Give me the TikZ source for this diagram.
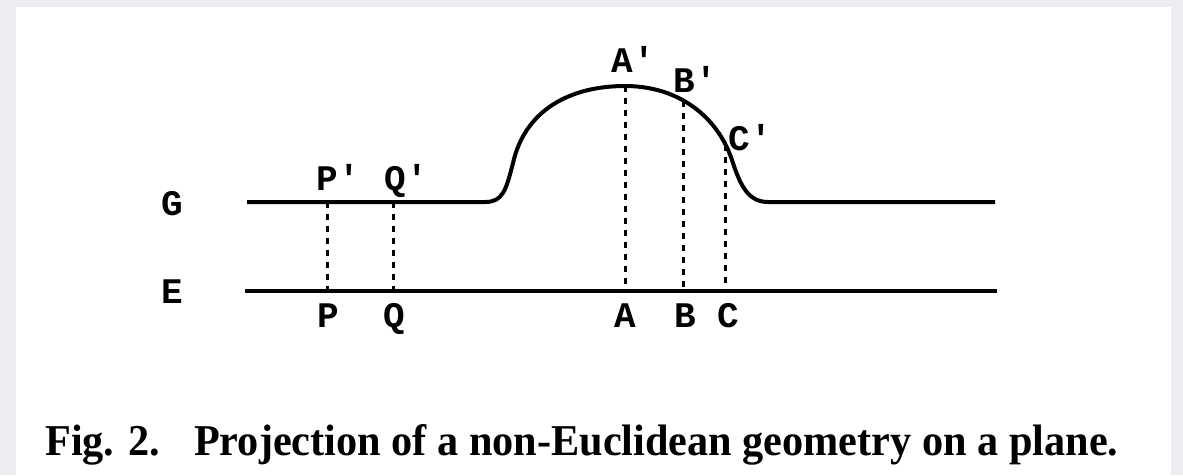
\documentclass[tikz,border=0pt]{standalone}
\usepackage{fontspec}
\usepackage{graphicx}
\setmonofont{Liberation Mono}
\newfontfamily\capfont{Liberation Serif}
\definecolor{paper}{RGB}{236,237,241}

\tikzset{
    lbl/.style={font=\ttfamily\bfseries\fontsize{36}{36}\selectfont, inner sep=0pt, anchor=base},
    surf/.style={line width=4pt},
    proj/.style={line width=3pt, dash pattern=on 6pt off 6pt},
}

\begin{document}
\begin{tikzpicture}[x=1pt, y=-1pt]
    \fill[paper] (0,0) rectangle (1183,475);
    \fill[white] (16,7) rectangle (1171,475);
    \useasboundingbox (0,0) rectangle (1183,475);

    % the curved surface G and the plane E
    \coordinate (G0) at (247,202);
    \coordinate (G1) at (485,202);
    \coordinate (Gb) at (513,163);
    \coordinate (Ap) at (625,86);
    \coordinate (Gc) at (732,160);
    \coordinate (G2) at (768,202);
    \coordinate (G3) at (995,202);
    \coordinate (E0) at (245,291);
    \coordinate (E1) at (997,291);

    \draw[surf] (G0) -- (G1)
        .. controls (503,202) and (506,190) .. (Gb)
        .. controls (525,110) and (570,86) .. (Ap)
        .. controls (680,86) and (718,118) .. (Gc)
            coordinate[pos=0.41] (Bp) coordinate[pos=0.88] (Cp)
        .. controls (740,185) and (748,202) .. (G2) -- (G3);
    \draw[surf] (E0) -- (E1);

    % points and their projections
    \coordinate (Pp) at (327,202);
    \coordinate (Qp) at (393,202);
    \coordinate (P) at (Pp |- E0);
    \coordinate (Q) at (Qp |- E0);
    \coordinate (A) at (Ap |- E0);
    \coordinate (B) at (Bp |- E0);
    \coordinate (C) at (Cp |- E0);

    \draw[proj] (Pp) -- (P);
    \draw[proj] (Qp) -- (Q);
    \draw[proj] (Ap) -- (A);
    \draw[proj] (Bp) -- (B);
    \draw[proj] (Cp) -- (C);

    % labels
    \node[lbl] (lG) at (172,215) {G};
    \node[lbl] (lE) at (172,303) {E};
    \node[lbl] (lPp) at (338,190) {P'};
    \node[lbl] (lQp) at (406,190) {Q'};
    \node[lbl] (lAp) at (633,72) {A'};
    \node[lbl] (lBp) at (695,92) {B'};
    \node[lbl] (lCp) at (750,150) {C'};
    \node[lbl] (lP) at (328,327) {P};
    \node[lbl] (lQ) at (394,327) {Q};
    \node[lbl] (lA) at (625,327) {A};
    \node[lbl] (lB) at (685,327) {B};
    \node[lbl] (lC) at (728,327) {C};

    \node[anchor=base west, inner sep=0pt] (cap) at (45,455)
        {\resizebox{1073pt}{31pt}{\capfont\bfseries Fig. 2.\hspace{0.8em}Projection of a non-Euclidean geometry on a plane.}};
\end{tikzpicture}
\end{document}
